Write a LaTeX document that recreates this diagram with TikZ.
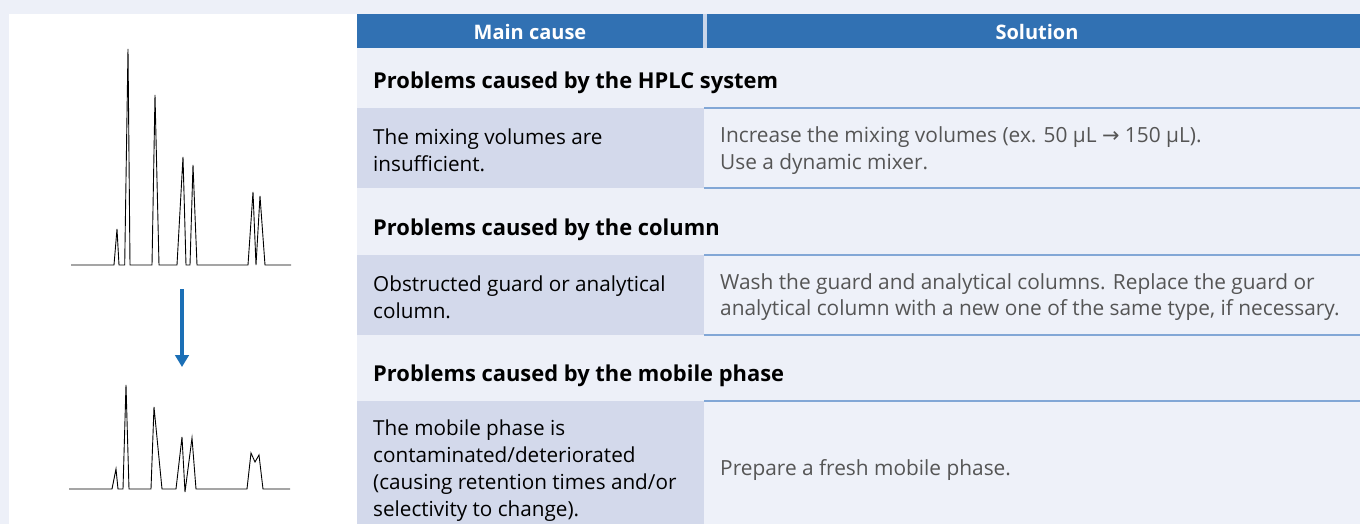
\documentclass[tikz,border=0pt]{standalone}
\usepackage{fontspec}
\setmainfont{Open Sans}
\newfontfamily\symfont{DejaVu Sans}
\usetikzlibrary{arrows.meta}
\definecolor{pagebg}{HTML}{EDF0F8}
\definecolor{hdr}{HTML}{3171B3}
\definecolor{hdrsep}{HTML}{C9D6EA}
\definecolor{leftcell}{HTML}{D3D9EB}
\definecolor{rightcell}{HTML}{EEF1F9}
\definecolor{rulec}{HTML}{82A7D6}
\definecolor{soltext}{HTML}{555555}
\definecolor{arrowc}{HTML}{1B6FB6}
\begin{document}
\begin{tikzpicture}[x=1pt,y=-1pt,
  txt/.style={inner sep=0pt, anchor=west, align=left, font=\fontsize{20.7}{26.8}\selectfont},
  sectxt/.style={txt, font=\fontsize{21.9}{26.8}\selectfont\bfseries},
  soltxt/.style={txt, text=soltext, font=\fontsize{20.85}{26.8}\selectfont},
  hdrtxt/.style={inner sep=0pt, text=white, font=\fontsize{20}{24}\selectfont\bfseries},
  rulel/.style={draw=rulec, line width=1.6pt},
  chrom/.style={draw=black, line width=0.9pt, line join=miter}
]
\useasboundingbox (0,0) rectangle (1360,524);
\fill[pagebg] (0,0) rectangle (1360,524);
\fill[white] (9,14) rectangle (357,524);
% header
\fill[hdr] (357,14) rectangle (1360,48);
\fill[hdrsep] (703,14) rectangle (707,48);
\node[hdrtxt] (h1) at (530,32) {Main cause};
\node[hdrtxt] (h2) at (1037,32) {Solution};
% cells
\fill[leftcell] (357,108) rectangle (704,188);
\fill[leftcell] (357,255) rectangle (704,335);
\fill[leftcell] (357,401) rectangle (704,524);
\fill[rightcell] (704,108) rectangle (1360,188);
\fill[rightcell] (704,255) rectangle (1360,335);
\fill[rightcell] (704,401) rectangle (1360,524);
\draw[rulel] (704,108) -- (1360,108);
\draw[rulel] (704,188) -- (1360,188);
\draw[rulel] (704,255) -- (1360,255);
\draw[rulel] (704,335) -- (1360,335);
\draw[rulel] (704,401) -- (1360,401);
% section headings
\node[sectxt] (s1) at (373,82.5) {Problems caused by the HPLC system};
\node[sectxt] (s2) at (373,229.5) {Problems caused by the column};
\node[sectxt] (s3) at (373,375.5) {Problems caused by the mobile phase};
% row texts
\node[txt] (c1) at (373,150.5) {The mixing volumes are\\insufficient.};
\node[soltxt] (r1) at (720,150.5) {Increase the mixing volumes (ex. 50 µL {\symfont →} 150 µL).\\Use a dynamic mixer.};
\node[txt] (c2) at (373,297) {Obstructed guard or analytical\\column.};
\node[soltxt] (r2) at (720,297) {Wash the guard and analytical columns. Replace the guard or\\analytical column with a new one of the same type, if necessary.};
\node[txt] (c3) at (373,470.5) {The mobile phase is\\contaminated/deteriorated\\(causing retention times and/or\\selectivity to change).};
\node[soltxt] (r3) at (720,470) {Prepare a fresh mobile phase.};
% chromatogram before
\draw[chrom] (71,265) -- (114,265) -- (117,229) -- (119,265) -- (124.7,265) -- (128,49) -- (130,265)
  -- (152,265) -- (155,95) -- (159,265) -- (177,265) -- (183,157) -- (186,265) -- (190,265)
  -- (193,165) -- (197,265) -- (248,265) -- (253,192) -- (256,265) -- (260,196) -- (265,265) -- (291,265);
% arrow
\coordinate (a1) at (182,289);
\coordinate (a2) at (182,367);
\draw[arrowc, line width=4.5pt, -{Triangle[width=13.5pt,length=12pt]}] (a1) -- (a2);
% chromatogram after
\draw[chrom] (69,489) -- (112,489) -- (116,469) -- (118,489) -- (123,489) -- (126,385) -- (129,489)
  -- (151,489) -- (154,407) -- (162,489) -- (176,489) -- (182,437) -- (185,492) -- (192,438)
  -- (196,489) -- (247,489) -- (251,453) -- (255,462) -- (259,455) -- (263,489) -- (290,489);
\end{tikzpicture}
\end{document}
